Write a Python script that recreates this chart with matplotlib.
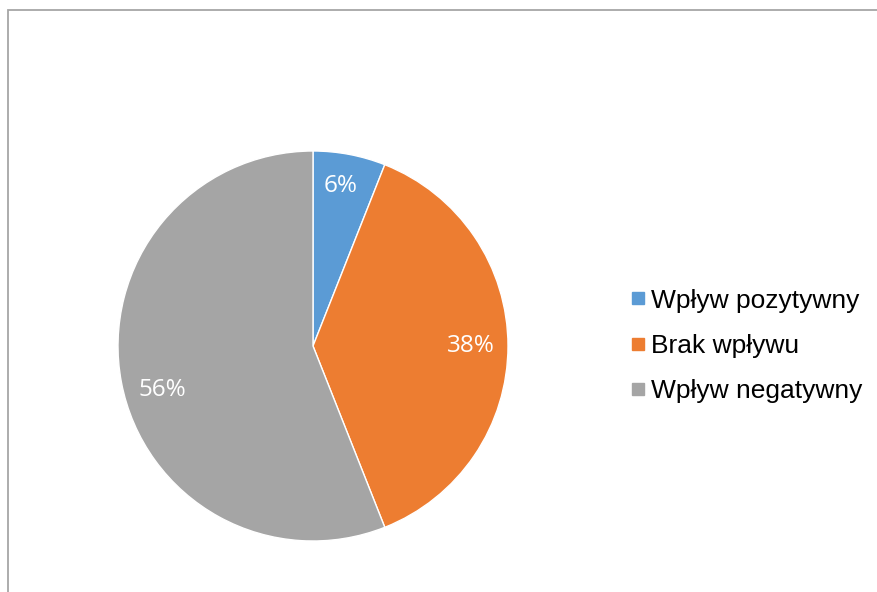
import matplotlib.pyplot as plt
from matplotlib.lines import Line2D
from matplotlib.patches import Rectangle

# pie data
labels = ['Wpływ pozytywny', 'Brak wpływu', 'Wpływ negatywny']
values = [6, 38, 56]
colors = ['#5B9BD5', '#ED7D31', '#A5A5A5']

W, H = 877, 592
fig = plt.figure(figsize=(W / 100, H / 100), dpi=100)

# thin grey frame round the chart area
fig.patches.append(Rectangle((8 / W, -0.1), 1.2, 1 - 10 / H + 0.1, transform=fig.transFigure,
                             fill=False, edgecolor='#A6A6A6', linewidth=1.3))

# pie axes: centre (313, 346) px, radius 195 px
cx, cy, r = 313, 346, 195
ax = fig.add_axes([(cx - r) / W, (H - cy - r) / H, 2 * r / W, 2 * r / H])
wedges, texts, autotexts = ax.pie(
    values, colors=colors, startangle=90, counterclock=False,
    autopct=lambda p: '%d%%' % round(p), pctdistance=0.81,
    wedgeprops=dict(edgecolor='white', linewidth=1),
    textprops=dict(color='white', fontsize=17.5, family='Open Sans'))
ax.set_xlim(-1, 1)
ax.set_ylim(-1, 1)
# nudge the labels of the small and the big slice
autotexts[0].set_position((0.14, 0.82))
autotexts[2].set_position((-0.775, -0.225))

handles = [Line2D([], [], marker='s', linestyle='none', markersize=9,
                  markerfacecolor=c, markeredgecolor=c) for c in colors]
fig.legend(handles, labels, loc='center left', bbox_to_anchor=(618 / W, 1 - 346 / H),
           frameon=False, prop=dict(family='Liberation Sans', size=19),
           handlelength=0.5, handletextpad=0.25, labelspacing=0.81, borderpad=0)

fig.savefig('out.png', dpi=100)
